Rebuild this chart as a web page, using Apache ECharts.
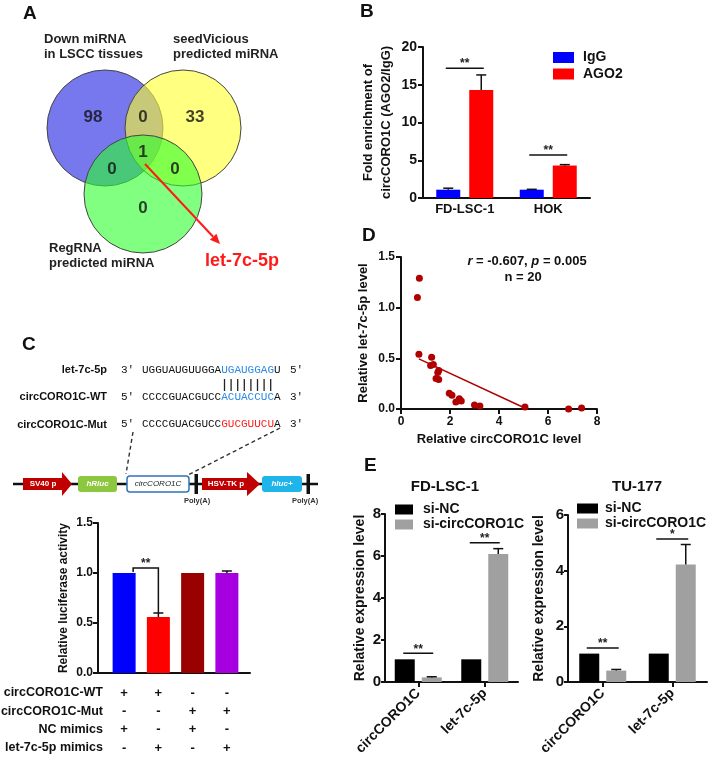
<!DOCTYPE html>
<html><head><meta charset="utf-8">
<script src="https://cdn.jsdelivr.net/npm/echarts@6/dist/echarts.min.js"></script>
<style>html,body{margin:0;padding:0;background:#fff}#c{width:709px;height:758px}</style>
</head><body><div id="c"></div>
<script>
// ================= DATA =================
// A: Venn
const vennSets = ['Down miRNA\nin LSCC tissues', 'seedVicious\npredicted miRNA', 'RegRNA\npredicted miRNA'];
// regions: blue only, blue∩yellow, yellow only, all three, blue∩green, yellow∩green, green only
const vennCounts = [98, 0, 33, 1, 0, 0, 0];
const vennHit = 'let-7c-5p';

// B: RIP
const ripCategories = ['FD-LSC-1', 'HOK'];
const ripIgG = [1.1, 1.1];
const ripIgGErr = [0.2, 0.05];
const ripAGO2 = [14.3, 4.3];
const ripAGO2Err = [2.0, 0.12];
const ripStars = ['**', '**'];
const ripSigLevel = [17.2, 5.7];

// C: luciferase
const lucGroups = ['1', '2', '3', '4'];
const lucValues = [1.0, 0.56, 1.0, 1.0];
const lucErr = [0, 0.04, 0, 0.02];
const lucRowLabels = ['circCORO1C-WT', 'circCORO1C-Mut', 'NC mimics', 'let-7c-5p mimics'];
const lucWT  = ['+', '+', '-', '-'];
const lucMut = ['-', '-', '+', '+'];
const lucNC  = ['+', '-', '+', '-'];
const lucLet = ['-', '+', '-', '+'];
const lucBracket = [1.05, 1.01, 0.60]; // top, left leg end, right leg end
const lucStars = '**';

// D: correlation
const corrX = [0.75, 0.67, 0.73, 1.25, 1.21, 1.32, 1.54, 1.50, 1.43, 1.54, 1.97, 2.08, 2.24, 2.38, 2.46, 3.00, 3.22, 5.06, 6.84, 7.37];
const corrY = [1.29, 1.10, 0.54, 0.51, 0.43, 0.44, 0.38, 0.36, 0.30, 0.29, 0.155, 0.135, 0.07, 0.10, 0.08, 0.04, 0.03, 0.02, 0.00, 0.01];
const fitX = [0.73, 5.05];
const fitY = [0.495, 0.01];

// E: knockdown
const eCategories = ['circCORO1C', 'let-7c-5p'];
const fdSiNC = [1.08, 1.08];
const fdSiCirc = [0.22, 6.1];
const fdSiCircErr = [0.03, 0.25];
const fdStars = ['**', '**'];
const fdSigLevel = [1.37, 6.63];
const tuSiNC = [1.02, 1.02];
const tuSiCirc = [0.41, 4.22];
const tuSiCircErr = [0.04, 0.72];
const tuStars = ['**', '*'];
const tuSigLevel = [1.22, 5.14];

// ================= LAYOUT / STYLE =================
const F = "'Liberation Sans', Arial, sans-serif";
const MONO = "'Liberation Mono', 'Courier New', monospace";
const INK = '#111';
const axisLine = {show: true, lineStyle: {color: INK, width: 2}};
const axisTick = {show: true, length: 5, lineStyle: {color: INK, width: 2}};
const noSplit = {show: false};
const lbl = (size, extra) => Object.assign({fontFamily: F, fontWeight: 'bold', fontSize: size, color: INK}, extra || {});
const nameStyle = (size) => ({fontFamily: F, fontWeight: 'bold', fontSize: size, color: INK, lineHeight: 18});

const vennLayout = [[105, 128], [183, 128], [143, 194]];
const vennSizes = [116, 116, 118];
const vennColors = ['rgba(28,28,227,0.6)', 'rgba(255,255,43,0.6)', 'rgba(43,255,43,0.6)'];
const vennLabelPos = [[93, 117], [143, 117], [195, 117], [143, 152], [112, 169], [175, 169], [143, 208]];

function gridBox(l, t, w, h) { return {left: l, top: t, width: w, height: h, outerBoundsMode: 'none', containLabel: false}; }

const grids = [
  gridBox(0, 0, 360, 280),     // 0 venn
  gridBox(423, 47, 167, 151),  // 1 B
  gridBox(98, 523, 152, 150),  // 2 C axes
  gridBox(107, 523, 137, 150), // 3 C bars
  gridBox(401, 257, 196, 152), // 4 D
  gridBox(385, 514, 133, 168), // 5 E left
  gridBox(568, 515, 139, 167)  // 6 E right
];

function errRender(dx, cap) {
  return function (params, api) {
    const i = api.value(0), v = api.value(1), e = api.value(2);
    if (!e) return {type: 'group', children: []};
    const a = api.coord([i, v]), b = api.coord([i, v + e]);
    const x = a[0] + dx;
    return {type: 'group', children: [
      {type: 'line', shape: {x1: x, y1: a[1], x2: x, y2: b[1]}, style: {stroke: INK, lineWidth: 1.5}},
      {type: 'line', shape: {x1: x - cap, y1: b[1], x2: x + cap, y2: b[1]}, style: {stroke: INK, lineWidth: 1.5}}
    ]};
  };
}
function sigRender(hw, stars) {
  return function (params, api) {
    const i = api.value(0), y = api.value(1);
    const p = api.coord([i, y]);
    return {type: 'group', children: [
      {type: 'line', shape: {x1: p[0] - hw, y1: p[1], x2: p[0] + hw, y2: p[1]}, style: {stroke: INK, lineWidth: 1.5}},
      {type: 'text', style: {text: stars[params.dataIndex], x: p[0], y: p[1] - 4, align: 'center', verticalAlign: 'middle', font: `bold 12px ${F}`, fill: '#222'}}
    ]};
  };
}

const series = [];
// A venn circles + counts
series.push({type: 'scatter', xAxisIndex: 0, yAxisIndex: 0, silent: true,
  data: vennLayout.map((p, i) => ({value: p, symbolSize: vennSizes[i], itemStyle: {color: vennColors[i], borderColor: '#444', borderWidth: 1, opacity: 1}}))});
series.push({type: 'scatter', xAxisIndex: 0, yAxisIndex: 0, silent: true, symbolSize: 1, itemStyle: {color: 'rgba(0,0,0,0)'},
  label: {show: true, position: 'inside', formatter: p => String(vennCounts[p.dataIndex]), fontFamily: F, fontWeight: 'bold', fontSize: 17, color: '#111'},
  data: vennLabelPos});

// B
series.push({type: 'bar', name: 'IgG', xAxisIndex: 1, yAxisIndex: 1, data: ripIgG, barWidth: 24, barGap: '37.5%', itemStyle: {color: '#0000ff'}});
series.push({type: 'bar', name: 'AGO2', xAxisIndex: 1, yAxisIndex: 1, data: ripAGO2, barWidth: 24, barGap: '37.5%', itemStyle: {color: '#ff0000'}});
series.push({type: 'custom', xAxisIndex: 1, yAxisIndex: 1, renderItem: errRender(-16.5, 5), data: ripIgG.map((v, i) => [i, v, ripIgGErr[i]]), encode: {x: 0, y: 1}, z: 5});
series.push({type: 'custom', xAxisIndex: 1, yAxisIndex: 1, renderItem: errRender(16.5, 5), data: ripAGO2.map((v, i) => [i, v, ripAGO2Err[i]]), encode: {x: 0, y: 1}, z: 5});
series.push({type: 'custom', xAxisIndex: 1, yAxisIndex: 1, renderItem: sigRender(19, ripStars), data: ripSigLevel.map((v, i) => [i, v]), encode: {x: 0, y: 1}, z: 5});

// C
const lucColors = ['#0000ff', '#ff0000', '#990000', '#a600e0'];
series.push({type: 'bar', xAxisIndex: 3, yAxisIndex: 3, barWidth: 23,
  data: lucValues.map((v, i) => ({value: v, itemStyle: {color: lucColors[i]}}))});
series.push({type: 'custom', xAxisIndex: 3, yAxisIndex: 3, renderItem: errRender(0, 5), data: lucValues.map((v, i) => [i, v, lucErr[i]]), encode: {x: 0, y: 1}, z: 5});
series.push({type: 'custom', xAxisIndex: 3, yAxisIndex: 3, z: 5, encode: {x: 0, y: 1},
  data: [[0, lucBracket[0]]],
  renderItem: function (params, api) {
    const top0 = api.coord([0, lucBracket[0]]), leg0 = api.coord([0, lucBracket[1]]);
    const top1 = api.coord([1, lucBracket[0]]), leg1 = api.coord([1, lucBracket[2]]);
    const xl = top0[0] + 9, xr = top1[0];
    return {type: 'group', children: [
      {type: 'polyline', shape: {points: [[xl, leg0[1]], [xl, top0[1]], [xr, top1[1]], [xr, leg1[1]]]}, style: {stroke: INK, lineWidth: 1.5, fill: null}},
      {type: 'text', style: {text: lucStars, x: (xl + xr) / 2, y: top0[1] - 4, align: 'center', verticalAlign: 'middle', font: `bold 12px ${F}`, fill: '#222'}}
    ]};
  }});

// D
series.push({type: 'line', xAxisIndex: 4, yAxisIndex: 4, data: fitX.map((x, i) => [x, fitY[i]]), symbol: 'none', lineStyle: {color: '#b00000', width: 1.5}, silent: true});
series.push({type: 'scatter', xAxisIndex: 4, yAxisIndex: 4, data: corrX.map((x, i) => [x, corrY[i]]), symbolSize: 7, itemStyle: {color: '#b00000', opacity: 1}, silent: true});

// E left
series.push({type: 'bar', name: 'si-NC', xAxisIndex: 5, yAxisIndex: 5, data: fdSiNC, barWidth: 20, barGap: '35%', itemStyle: {color: '#000'}});
series.push({type: 'bar', name: 'si-circCORO1C', xAxisIndex: 5, yAxisIndex: 5, data: fdSiCirc, barWidth: 20, barGap: '35%', itemStyle: {color: '#a0a0a0'}});
series.push({type: 'custom', xAxisIndex: 5, yAxisIndex: 5, renderItem: errRender(13.5, 5), data: fdSiCirc.map((v, i) => [i, v, fdSiCircErr[i]]), encode: {x: 0, y: 1}, z: 5});
series.push({type: 'custom', xAxisIndex: 5, yAxisIndex: 5, renderItem: sigRender(15, fdStars), data: fdSigLevel.map((v, i) => [i, v]), encode: {x: 0, y: 1}, z: 5});
// E right
series.push({type: 'bar', name: 'si-NC', xAxisIndex: 6, yAxisIndex: 6, data: tuSiNC, barWidth: 20, barGap: '35%', itemStyle: {color: '#000'}});
series.push({type: 'bar', name: 'si-circCORO1C', xAxisIndex: 6, yAxisIndex: 6, data: tuSiCirc, barWidth: 20, barGap: '35%', itemStyle: {color: '#a0a0a0'}});
series.push({type: 'custom', xAxisIndex: 6, yAxisIndex: 6, renderItem: errRender(13.5, 5), data: tuSiCirc.map((v, i) => [i, v, tuSiCircErr[i]]), encode: {x: 0, y: 1}, z: 5});
series.push({type: 'custom', xAxisIndex: 6, yAxisIndex: 6, renderItem: sigRender(16, tuStars), data: tuSigLevel.map((v, i) => [i, v]), encode: {x: 0, y: 1}, z: 5});

const xAxis = [
  {gridIndex: 0, type: 'value', min: 0, max: 360, show: false},
  {gridIndex: 1, type: 'category', data: ripCategories, axisLine, axisTick: {show: false}, axisLabel: lbl(13, {margin: 5, interval: 0})},
  {gridIndex: 2, type: 'value', min: 0, max: 1, axisLine, axisTick: {show: false}, axisLabel: {show: false}, splitLine: noSplit},
  {gridIndex: 3, type: 'category', data: lucGroups, axisLine: {show: false}, axisTick: {show: false},
    axisLabel: lbl(13, {interval: 0, margin: 11, lineHeight: 18.3, formatter: (v, i) => [lucWT[i], lucMut[i], lucNC[i], lucLet[i]].join('\n')})},
  {gridIndex: 4, type: 'value', min: 0, max: 8, interval: 2, axisLine, axisTick, splitLine: noSplit, axisLabel: lbl(12, {margin: 7}),
    name: 'Relative circCORO1C level', nameLocation: 'middle', nameGap: 21, nameTextStyle: nameStyle(13)},
  {gridIndex: 5, type: 'category', data: eCategories, axisLine, axisTick: {show: true, alignWithLabel: true, length: 5, lineStyle: {color: INK, width: 2}},
    axisLabel: lbl(14, {rotate: 45, interval: 0, margin: 9})},
  {gridIndex: 6, type: 'category', data: eCategories, axisLine, axisTick: {show: true, alignWithLabel: true, length: 5, lineStyle: {color: INK, width: 2}},
    axisLabel: lbl(14, {rotate: 45, interval: 0, margin: 9})}
];
const yAxis = [
  {gridIndex: 0, type: 'value', min: 0, max: 280, inverse: true, show: false},
  {gridIndex: 1, type: 'value', min: 0, max: 20, interval: 5, axisLine, axisTick, splitLine: noSplit, axisLabel: lbl(14, {margin: 6}),
    name: 'Fold enrichment of\ncircCORO1C (AGO2/IgG)', nameLocation: 'middle', nameGap: 28, nameTextStyle: nameStyle(13)},
  {gridIndex: 2, type: 'value', min: 0, max: 1.5, interval: 0.5, axisLine, axisTick, splitLine: noSplit, axisLabel: lbl(12, {margin: 5, formatter: v => v.toFixed(1)}),
    name: 'Relative luciferase activity', nameLocation: 'middle', nameGap: 22, nameTextStyle: nameStyle(12)},
  {gridIndex: 3, type: 'value', min: 0, max: 1.5, show: false},
  {gridIndex: 4, type: 'value', min: 0, max: 1.5, interval: 0.5, axisLine, axisTick, splitLine: noSplit, axisLabel: lbl(12, {margin: 6, formatter: v => v.toFixed(1)}),
    name: 'Relative let-7c-5p level', nameLocation: 'middle', nameGap: 29, nameTextStyle: nameStyle(13)},
  {gridIndex: 5, type: 'value', min: 0, max: 8, interval: 2, axisLine, axisTick: {show: true, length: 4, lineStyle: {color: INK, width: 2}}, splitLine: noSplit, axisLabel: lbl(15, {margin: 4}),
    name: 'Relative expression level', nameLocation: 'middle', nameGap: 14, nameTextStyle: nameStyle(14)},
  {gridIndex: 6, type: 'value', min: 0, max: 6, interval: 2, axisLine, axisTick: {show: true, length: 4, lineStyle: {color: INK, width: 2}}, splitLine: noSplit, axisLabel: lbl(15, {margin: 4}),
    name: 'Relative expression level', nameLocation: 'middle', nameGap: 20, nameTextStyle: nameStyle(14)}
];

const legendBase = {orient: 'vertical', padding: 0, icon: 'rect', selectedMode: false};
const legend = [
  Object.assign({}, legendBase, {data: ['IgG', 'AGO2'], left: 553, top: 50.5, itemWidth: 21, itemHeight: 11, itemGap: 2.5,
    textStyle: {fontFamily: F, fontWeight: 'bold', fontSize: 14, lineHeight: 14, color: INK, padding: [0, 0, 0, 4]}}),
  Object.assign({}, legendBase, {data: ['si-NC', 'si-circCORO1C'], left: 395, top: 502.5, itemWidth: 18, itemHeight: 10, itemGap: 1,
    textStyle: {fontFamily: F, fontWeight: 'bold', fontSize: 14, lineHeight: 14, color: INK, padding: [0, 0, 0, 5]}}),
  Object.assign({}, legendBase, {data: ['si-NC', 'si-circCORO1C'], left: 577, top: 501.5, itemWidth: 21, itemHeight: 10, itemGap: 1,
    textStyle: {fontFamily: F, fontWeight: 'bold', fontSize: 14, lineHeight: 14, color: INK, padding: [0, 0, 0, 2]}})
];

// ================= GRAPHIC ANNOTATIONS =================
const g = [];
function txt(text, x, y, o) {
  g.push({type: 'text', x: x, y: y, silent: true, z: 100,
    style: Object.assign({text: text, fill: INK, font: `bold 13px ${F}`, align: 'left', verticalAlign: 'middle'}, o || {})});
}
// panel letters
[['A', 23, 13.5], ['B', 360, 11.5], ['C', 22, 345], ['D', 362, 236], ['E', 364, 466]].forEach(a => txt(a[0], a[1], a[2], {font: `bold 19px ${F}`}));
// Venn set labels
txt(vennSets[0], 44, 32, {verticalAlign: 'top', lineHeight: 15, fill: '#222'});
txt(vennSets[1], 173, 32, {verticalAlign: 'top', lineHeight: 15, fill: '#222'});
txt(vennSets[2], 49, 240.5, {verticalAlign: 'top', lineHeight: 15, fill: '#222'});
txt(vennHit, 205, 261, {font: `bold 18px ${F}`, fill: '#ff1a1a'});
// arrow
(function () {
  const x1 = 145, y1 = 164, x2 = 220, y2 = 244;
  const L = Math.hypot(x2 - x1, y2 - y1), ux = (x2 - x1) / L, uy = (y2 - y1) / L;
  const bx = x2 - ux * 10, by = y2 - uy * 10, px = -uy * 4.5, py = ux * 4.5;
  g.push({type: 'line', silent: true, z: 100, shape: {x1: x1, y1: y1, x2: bx, y2: by}, style: {stroke: '#ff1a1a', lineWidth: 2}});
  g.push({type: 'polygon', silent: true, z: 100, shape: {points: [[x2, y2], [bx + px, by + py], [bx - px, by - py]]}, style: {fill: '#ff1a1a'}});
})();

// sequences
const CW = 6.6, SEQX = 142;
const seqRows = [
  {label: 'let-7c-5p', y: 370, l: '3′', r: '5′', parts: [['UGGUAUGUUGGA', 'k'], ['UGAUGGAG', 'b'], ['U', 'k']]},
  {label: 'circCORO1C-WT', y: 397, l: '5′', r: '3′', parts: [['CCCCGUACGUCC', 'k'], ['ACUACCUC', 'b'], ['A', 'k']]},
  {label: 'circCORO1C-Mut', y: 424.5, l: '5′', r: '3′', parts: [['CCCCGUACGUCC', 'k'], ['GUCGUUCU', 'm'], ['A', 'k']]}
];
const rich = {
  k: {fill: '#111', fontFamily: MONO, fontSize: 11},
  b: {fill: '#2b8ae6', fontFamily: MONO, fontSize: 11},
  m: {fill: '#ff2020', fontFamily: MONO, fontSize: 11}
};
seqRows.forEach(r => {
  txt(r.label, 107, r.y, {align: 'right', font: `bold 11px ${F}`});
  txt(r.l, 121, r.y, {font: `11px ${MONO}`, fill: '#111'});
  txt(r.parts.map(p => `{${p[1]}|${p[0]}}`).join(''), SEQX, r.y, {font: `11px ${MONO}`, rich: rich});
  txt(r.r, 290, r.y, {font: `11px ${MONO}`, fill: '#111'});
});
for (let i = 0; i < 8; i++) {
  const x = SEQX + (12.5 + i) * CW;
  g.push({type: 'line', silent: true, z: 100, shape: {x1: x, y1: 379, x2: x, y2: 391}, style: {stroke: '#222', lineWidth: 1.3}});
}
// dashed guide lines
g.push({type: 'line', silent: true, z: 100, shape: {x1: 133, y1: 432, x2: 126, y2: 474}, style: {stroke: '#333', lineWidth: 1.4, lineDash: [4, 3]}});
g.push({type: 'line', silent: true, z: 100, shape: {x1: 280, y1: 428, x2: 188, y2: 475}, style: {stroke: '#333', lineWidth: 1.4, lineDash: [4, 3]}});
// construct
g.push({type: 'line', silent: true, z: 100, shape: {x1: 13, y1: 484, x2: 318, y2: 484}, style: {stroke: INK, lineWidth: 2.5}});
function arrowShape(x0, x1, tip) { return [[x0, 478], [x1, 478], [x1, 472], [tip, 484], [x1, 496], [x1, 490], [x0, 490]]; }
g.push({type: 'polygon', silent: true, z: 101, shape: {points: arrowShape(23, 62, 72)}, style: {fill: '#c00000'}});
g.push({type: 'polygon', silent: true, z: 101, shape: {points: arrowShape(202, 247, 260)}, style: {fill: '#c00000'}});
g.push({type: 'rect', silent: true, z: 101, shape: {x: 78, y: 476, width: 39, height: 16, r: 3}, style: {fill: '#8dc63f'}});
g.push({type: 'rect', silent: true, z: 101, shape: {x: 127, y: 476, width: 62, height: 16, r: 3}, style: {fill: '#fff', stroke: '#2e75b6', lineWidth: 1.5}});
g.push({type: 'rect', silent: true, z: 101, shape: {x: 262, y: 476, width: 40, height: 16, r: 3}, style: {fill: '#1fb4ea'}});
g.push({type: 'rect', silent: true, z: 101, shape: {x: 194.5, y: 474, width: 3.5, height: 20}, style: {fill: INK}});
g.push({type: 'rect', silent: true, z: 101, shape: {x: 306.5, y: 474, width: 3.5, height: 20}, style: {fill: INK}});
function ctext(t, x, o) { g.push({type: 'text', silent: true, z: 102, x: x, y: 484, style: Object.assign({text: t, fill: '#fff', font: `bold 8px ${F}`, align: 'center', verticalAlign: 'middle'}, o || {})}); }
ctext('SV40 p', 43);
ctext('hRluc', 97.5, {font: `italic bold 8px ${F}`});
ctext('circCORO1C', 158, {font: `italic 8px ${F}`, fill: '#222'});
ctext('HSV-TK p', 226);
ctext('hluc+', 282, {font: `italic bold 8px ${F}`});
txt('Poly(A)', 197, 501, {align: 'center', font: `bold 7.5px ${F}`, fill: '#333'});
txt('Poly(A)', 305, 501, {align: 'center', font: `bold 7.5px ${F}`, fill: '#333'});
// C table row labels
[693, 711.5, 730, 748].forEach((y, i) => txt(lucRowLabels[i], 103, y, {align: 'right', font: `bold 12.5px ${F}`}));
// D annotation
txt('{i|r} = -0.607, {i|p} = 0.005', 527, 261, {align: 'center', rich: {i: {fontFamily: F, fontWeight: 'bold', fontStyle: 'italic', fontSize: 13, fill: INK}}});
txt('n = 20', 523, 277, {align: 'center'});
// E titles
txt('FD-LSC-1', 445, 487, {align: 'center', font: `bold 15px ${F}`});
txt('TU-177', 637, 487, {align: 'center', font: `bold 15px ${F}`});

const chart = echarts.init(document.getElementById('c'), null, {renderer: 'canvas'});
chart.setOption({
  animation: false,
  backgroundColor: '#fff',
  textStyle: {fontFamily: F},
  grid: grids, xAxis: xAxis, yAxis: yAxis, legend: legend, series: series, graphic: g
});
</script></body></html>
